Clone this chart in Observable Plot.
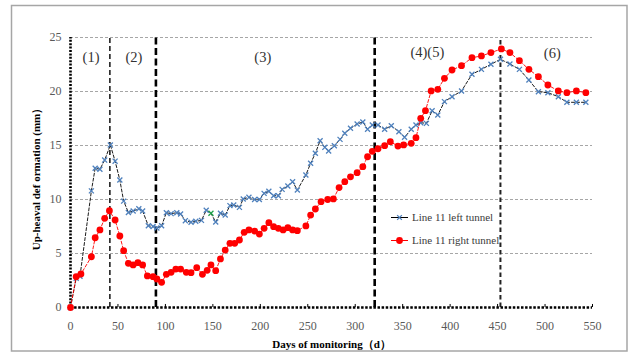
<!DOCTYPE html>
<html>
<head>
<meta charset="utf-8">
<script src="https://cdn.jsdelivr.net/npm/d3@7"></script>
<script src="https://cdn.jsdelivr.net/npm/@observablehq/plot@0.6"></script>
<style>
  body { margin: 0; background: #fff; }
  #chart svg { display: block; }
</style>
</head>
<body>
<div id="chart"></div>
<script>
// ---- data ----
const leftDays = [0,6,10,22,26,31,36,42,47,52,56,61,66,72,76,82,87,91,96,101,106,112,116,121,127,132,138,143,148,153,158,163,168,172,178,182,188,194,199,204,209,214,219,223,229,234,239,248,253,258,263,268,272,278,284,289,295,302,308,313,318,324,331,338,346,352,359,364,369,375,381,387,394,402,412,423,433,443,453,463,473,483,493,503,514,523,533,543];
const leftVals = [0,2.7,2.9,10.8,12.9,12.8,13.65,15.05,13.55,11.8,9.85,8.8,8.93,9.15,8.93,7.57,7.5,7.36,7.57,8.78,8.69,8.78,8.66,8.04,7.89,7.98,8.07,9.0,8.72,7.92,8.72,8.56,9.43,9.49,9.27,10.05,10.2,10.0,10.0,10.57,10.76,10.35,10.35,10.94,11.25,11.65,10.88,12.27,13.35,14.28,15.44,14.83,14.49,14.98,15.57,16.13,16.59,16.99,17.18,16.5,16.9,16.9,16.5,16.83,16.28,15.76,16.5,16.9,17.11,17.05,18.22,17.82,19.06,19.52,20.05,21.59,22.05,22.52,22.98,22.55,22.05,21.06,19.98,19.89,19.52,19.0,19.0,19.0];
const leftGreenDay = 148; // one marker drawn in green in the original

const rightDays = [0,6,11,22,26,31,36,41,47,52,56,61,66,71,76,81,87,91,96,101,106,111,116,122,127,133,139,144,148,153,158,163,168,173,178,183,188,194,199,204,209,214,219,224,229,234,239,248,253,258,264,271,277,283,289,295,302,308,313,318,324,331,337,345,351,359,364,369,374,380,387,394,402,412,423,433,443,454,463,473,483,493,503,514,523,533,543];
const rightVals = [0,2.85,3.1,4.7,6.46,7.18,8.26,8.96,8.1,6.62,5.26,4.09,3.94,4.15,3.94,2.92,2.85,2.64,2.33,3.07,3.26,3.56,3.56,3.26,3.22,3.69,3.07,3.44,3.94,3.41,4.5,5.32,5.94,5.94,6.25,6.96,7.18,7.08,6.8,7.33,7.85,7.48,7.33,7.18,7.39,7.18,7.11,7.55,8.56,9.12,9.8,10.0,10.05,11.1,11.65,12.1,12.48,13.04,13.96,14.46,14.7,14.98,15.35,14.95,15.05,15.2,15.72,17.52,18.22,20.05,20.2,21.22,21.99,22.39,23.13,23.29,23.6,23.94,23.6,22.85,22.05,21.37,20.6,20.05,19.89,20.05,19.89];

const xTicks = [0,50,100,150,200,250,300,350,400,450,500,550];
const yTicks = [0,5,10,15,20,25];
const gridY = [5,10,15,20,25];

const phaseThin = [41.5];
const phaseThick = [90, 320.5];
const phaseMedium = [453];

const phaseLabelText = ["(1)","(2)","(3)","(4)(5)","(6)"];
const phaseLabelX = [21.6, 66.8, 202.6, 376, 507.6];
const phaseLabelY = [23.2, 23.2, 23.2, 23.65, 23.55];

const seriesNames = ["Line 11 left tunnel", "Line 11 right tunnel"];
const xTitle = "Days of monitoring（d）";
const yTitle = "Up-heaval def ormation (mm）";

// ---- build tables ----
const left = leftDays.map((d, i) => ({day: d, v: leftVals[i]}));
const right = rightDays.map((d, i) => ({day: d, v: rightVals[i]}));
const labels = phaseLabelText.map((t, i) => ({t, x: phaseLabelX[i], y: phaseLabelY[i]}));

const BLUE = "#4F81BD", RED = "#FF0000", GREEN = "#1FA04A";
const SERIF = "'Liberation Serif', 'Times New Roman', serif";

const chart = Plot.plot({
  width: 630,
  height: 353,
  marginLeft: 70,
  marginRight: 38,
  marginTop: 37,
  marginBottom: 46,
  x: {domain: [0, 550]},
  y: {domain: [0, 25]},
  style: {fontFamily: SERIF, fontSize: "12px", color: "#595959", background: "#fff"},
  marks: [
    Plot.ruleY(gridY, {stroke: "#a6a6a6", strokeWidth: 1, strokeDasharray: "3,2"}),
    Plot.ruleX(phaseThin, {y1: 0, y2: 25, stroke: "#000", strokeWidth: 1.4, strokeDasharray: "5,3"}),
    Plot.ruleX(phaseThick, {y1: 0, y2: 25, stroke: "#000", strokeWidth: 2.6, strokeDasharray: "7,3.5"}),
    Plot.ruleX(phaseMedium, {y1: 0, y2: 25, stroke: "#222", strokeWidth: 2, strokeDasharray: "4.5,3"}),
    Plot.ruleX(xTicks.slice(1), {y1: 0, y2: 0.28, stroke: "#000", strokeWidth: 1}),
    Plot.ruleX([0], {y1: 0, y2: 25, stroke: "#000", strokeWidth: 2.6, strokeDasharray: "2,1.4"}),
    Plot.ruleY([0], {x1: 0, x2: 550, stroke: "#000", strokeWidth: 2.6, strokeDasharray: "2.5,1.6"}),
    Plot.axisX({ticks: xTicks, tickSize: 0, tickPadding: 13.5, label: null, fontSize: 12, fontFamily: SERIF}),
    Plot.axisY({ticks: yTicks, tickSize: 0, tickPadding: 9, label: null, fontSize: 12, fontFamily: SERIF}),
    Plot.line(left, {x: "day", y: "v", stroke: "#000", strokeWidth: 0.9, strokeDasharray: "3,2"}),
    Plot.dot(left, {x: "day", y: "v", symbol: "times", r: 2.4, strokeWidth: 1.3,
      stroke: d => d.day === leftGreenDay ? GREEN : BLUE}),
    Plot.line(right, {x: "day", y: "v", stroke: RED, strokeWidth: 0.9, strokeDasharray: "3,2"}),
    Plot.dot(right, {x: "day", y: "v", r: 3.4, fill: RED, stroke: "none"}),
    Plot.text(labels, {x: "x", y: "y", text: "t", fill: "#333", fontSize: 14.5, fontFamily: SERIF, lineAnchor: "middle"}),
    Plot.text([xTitle], {frameAnchor: "bottom", dy: 37, fill: "#000", fontWeight: "bold", fontSize: 11, fontFamily: SERIF, lineAnchor: "middle", textAnchor: "middle"}),
    Plot.text([yTitle], {frameAnchor: "left", dx: -34, dy: 4, rotate: -90, fill: "#000", fontWeight: "bold", fontSize: 11, fontFamily: SERIF, lineAnchor: "middle", textAnchor: "middle"})
  ]
});

document.getElementById("chart").appendChild(chart);

// outer border
const svg = d3.select(chart);
svg.insert("rect", ":first-child")
  .attr("x", 11.5).attr("y", 5.5).attr("width", 615.5).attr("height", 345.5)
  .attr("fill", "none").attr("stroke", "#a6a6a6").attr("stroke-width", 1.5);

// legend
const lg = svg.append("g").attr("font-family", SERIF).attr("font-size", 11).attr("fill", "#3a3a3a").attr("text-anchor", "start");
const legendRows = [
  {name: seriesNames[0], y: 217.5, line: "#000", marker: "times"},
  {name: seriesNames[1], y: 240.5, line: RED, marker: "dot"}
];
legendRows.forEach(r => {
  lg.append("line").attr("x1", 391).attr("x2", 408).attr("y1", r.y).attr("y2", r.y)
    .attr("stroke", r.line).attr("stroke-width", 1);
  if (r.marker === "times") {
    lg.append("path").attr("d", d3.symbol(d3.symbolTimes, 16)())
      .attr("transform", `translate(399.5,${r.y})`).attr("stroke", BLUE).attr("stroke-width", 1.3).attr("fill", "none");
  } else {
    lg.append("circle").attr("cx", 399.5).attr("cy", r.y).attr("r", 3.4).attr("fill", RED);
  }
  lg.append("text").attr("x", 412).attr("y", r.y + 3.8).attr("text-anchor", "start").text(r.name);
});
</script>
</body>
</html>
